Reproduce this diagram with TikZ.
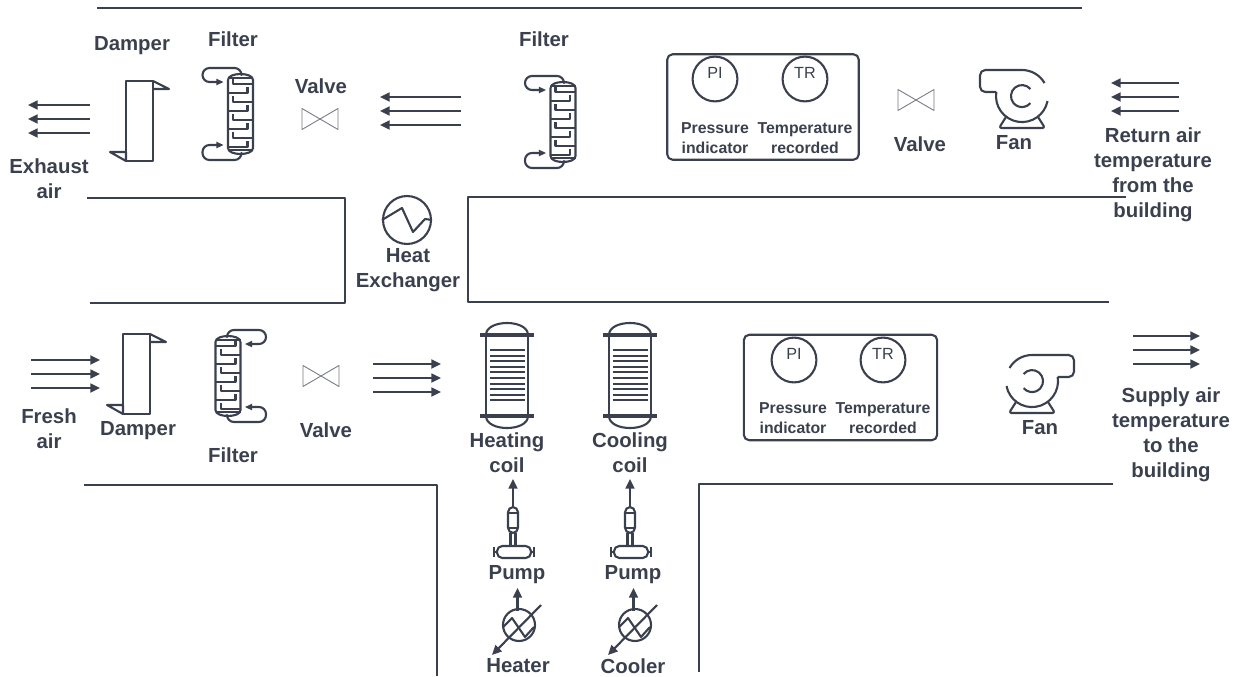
\documentclass[tikz,border=0pt]{standalone}
\usepackage{fontspec}
\setmainfont{Liberation Sans}
\usetikzlibrary{arrows.meta}
\definecolor{ink}{HTML}{3A404D}
\tikzset{
    every picture/.style={line join=round},
    tip/.style={-{Stealth[length=5.5pt, width=5pt, inset=0pt]}},
    smalltip/.style={-{Stealth[length=4pt, width=3.5pt, inset=0pt]}},
    duct/.style={draw=ink, line width=1.5pt},
    part/.style={draw=ink, line width=1.2pt},
    flow/.style={draw=ink, line width=1.3pt, tip},
    lbl/.style={font=\fontsize{11.6}{14.2}\selectfont\bfseries, text=ink, align=center, inner sep=0pt},
    small/.style={font=\fontsize{9}{11.4}\selectfont\bfseries, text=ink, align=center, inner sep=0pt},
    gauge/.style={circle, draw=ink, line width=1.2pt, minimum size=25.5pt, inner sep=0pt},
    gaugetext/.style={font=\fontsize{9.2}{12}\selectfont, text=ink, inner sep=0pt},
    % air arrows, drawn to the right
    pics/airflow/.style={code={
        \foreach \yy in {-14,0,14} \draw[flow] (-#1,\yy) -- (#1,\yy);
    }},
    pics/damper/.style={code={
        \draw[part] (-14,-40) rectangle (13,40);
        \draw[part] (13,-40) -- (29,-32) -- (13,-32);
        \draw[part] (-14,40) -- (-14,31) -- (-30,31) -- cycle;
    }},
    pics/filter/.style={code={
        \draw[part] (-12.5,-34) -- (-12.5,34) .. controls (-12.5,42) and (12.5,42) .. (12.5,34) -- (12.5,-34) .. controls (12.5,-42) and (-12.5,-42) .. (-12.5,-34);
        \draw[part] (-12.5,-36) -- (12.5,-36) (-12.5,36) -- (12.5,36);
        % trays with risers
        \foreach \yy in {-30,-12,6,24} \draw[part] (12.5,\yy) -- (-7.5,\yy) -- (-7.5,\yy-6);
        \foreach \yy in {-21,-3,15,33} \draw[part] (-12.5,\yy) -- (7,\yy) -- (7,\yy-6);
        \draw[part, smalltip, rounded corners=4pt] (1,-39) -- (1,-46) -- (-38,-46) -- (-38,-32) -- (-17,-32);
        \draw[part, smalltip, rounded corners=4pt] (1,39) -- (1,46) -- (-38,46) -- (-38,31) -- (-17,31);
    }},
    pics/valve/.style={code={
        \draw[draw=ink!70, line width=.5pt] (-18,-10.5) -- (18,10.5) -- (18,-10.5) -- (-18,10.5) -- cycle;
    }},
    pics/fan/.style={code={
        \draw[part] (22.5,-13) arc (-30:-90:26) -- (-35,-26) [rounded corners=3pt] -- (-42,-26) -- (-42,-4) -- (-25.7,-4);
        \draw[part] (-25.7,-4) arc (189:11:26);
        \draw[part] (8.4,-7) arc (-40:-320:11);
        \draw[part, rounded corners=1.5pt] (-16,21) -- (-23,32) -- (23,32) -- (16,21);
    }},
    pics/coil/.style={code={
        \draw[part] (-21,-40) .. controls (-21,-56) and (21,-56) .. (21,-40);
        \draw[part] (-21,41) .. controls (-21,57) and (21,57) .. (21,41);
        \draw[part] (-21,-40) -- (-21,41) (21,-40) -- (21,41);
        \draw[ink, line width=2pt] (-27,-40) -- (27,-40);
        \draw[ink, line width=2.6pt] (-27,41) -- (27,41);
        \foreach \yy in {0,...,9} \draw[ink, line width=1.2pt] (-17.5,-25+\yy*5.6) -- (17.5,-25+\yy*5.6);
    }},
    pics/pump/.style={code={
        \draw[part, tip] (0,-12) -- (0,-40);
        \draw[part, rounded corners=3pt] (-5,-12) rectangle (5,14);
        \draw[part] (-5,-6) -- (5,-6) (-5,9) -- (5,9);
        \draw[part] (-2.5,14) -- (-2.5,27) (2.5,14) -- (2.5,27);
        \draw[part, rounded corners=3pt] (-16,27) rectangle (18,39);
        \draw[part, line width=1.6pt] (-19,28) -- (-19,38) (21,28) -- (21,38);
        \draw[part] (-19,33) -- (-16,33) (18,33) -- (21,33);
    }},
    pics/exchanger/.style={code={
        \draw[part] (0,0) circle (16);
        \draw[part, tip] (-1.5,-14) -- (-1.5,-37);
        \draw[part, tip] (22,-20) -- (-27,30);
        \draw[part] (-16,2) -- (-7,-7) -- (6,12) -- (15,2);
    }}
}
\begin{document}
\begin{tikzpicture}[x=0.02cm, y=-0.02cm]
    \useasboundingbox (0,0) rectangle (1237,676);

    % Ducts
    \draw[duct] (97,8) -- (1082,8);
    \draw[duct] (87,198) -- (345,198) -- (345,303) -- (90,303);
    \draw[duct] (1126,197) -- (468,197) -- (468,302) -- (1109,302);
    \draw[duct] (84,485) -- (437,485) -- (437,676);
    \draw[duct] (1113,484) -- (699,484) -- (699,672);

    % Air arrows
    \pic[xscale=-1] at (59,119) {airflow=31};
    \pic[xscale=-1] at (420.5,111) {airflow=40.5};
    \pic[xscale=-1] at (1145,97) {airflow=34};
    \pic at (65.5,374) {airflow=34.5};
    \pic at (407,378) {airflow=34};
    \pic at (1166.5,350) {airflow=33.5};

    % Upper row
    \pic at (140,121) {damper};
    \pic at (240.5,114) {filter};
    \pic at (320,119) {valve};
    \pic at (563,122) {filter};
    \pic at (916,100) {valve};
    \pic at (1022,96) {fan};

    % Lower row
    \pic at (137,374) {damper};
    \pic[xscale=-1] at (228,376) {filter};
    \pic at (321,376) {valve};
    \pic[xscale=-1] at (1032,381) {fan};
    \pic at (507,375) {coil};
    \pic at (630,375) {coil};

    % Pumps and exchangers
    \pic at (513,519) {pump};
    \pic at (630,519) {pump};
    \pic at (519,625) {exchanger};
    \pic at (635,625) {exchanger};

    % Heat exchanger
    \node[circle, draw=ink, line width=1.2pt, minimum size=27.3pt, inner sep=0pt] (hx) at (407,220) {};
    \draw[part] (hx.west) -- (402,208) -- (413,232) -- (425,219) -- (hx.east);

    % Instrument boxes
    \node[draw=ink, line width=1.2pt, rounded corners=3pt, minimum width=109pt, minimum height=60pt, inner sep=0pt] (upbox) at (763,107) {};
    \node[gauge] (pi1) at (715,79) {};
    \node[gauge] (tr1) at (805,79) {};
    \node[gaugetext] at (715,73) {PI};
    \node[gaugetext] at (805,73) {TR};
    \node[small] at (715,138) {Pressure\\indicator};
    \node[small] at (805,138) {Temperature\\recorded};

    \node[draw=ink, line width=1.2pt, rounded corners=3pt, minimum width=110pt, minimum height=60pt, inner sep=0pt] (lowbox) at (840.5,387.5) {};
    \node[gauge] (pi2) at (794,360) {};
    \node[gauge] (tr2) at (883,360) {};
    \node[gaugetext] at (794,354) {PI};
    \node[gaugetext] at (883,354) {TR};
    \node[small] at (793,418) {Pressure\\indicator};
    \node[small] at (883,418) {Temperature\\recorded};

    % Labels
    \node[lbl] at (132,46) {Damper};
    \node[lbl] at (233,39) {Filter};
    \node[lbl] at (321,86) {Valve};
    \node[lbl] at (544,39) {Filter};
    \node[lbl] at (49,179) {Exhaust\\air};
    \node[lbl] at (920,144) {Valve};
    \node[lbl] at (1014,142.5) {Fan};
    \node[lbl] at (1153,174.5) {Return air\\temperature\\from the\\building};
    \node[lbl] at (408,270) {Heat\\Exchanger};
    \node[lbl] at (49,429) {Fresh\\air};
    \node[lbl] at (138,431) {Damper};
    \node[lbl] at (233,455) {Filter};
    \node[lbl] at (326,430) {Valve};
    \node[lbl] at (507,453) {Heating\\coil};
    \node[lbl] at (630,453) {Cooling\\coil};
    \node[lbl] at (517,574.5) {Pump};
    \node[lbl] at (633,574.5) {Pump};
    \node[lbl] at (518,666) {Heater};
    \node[lbl] at (633,666) {Cooler};
    \node[lbl] at (1040,427.5) {Fan};
    \node[lbl] at (1171,435) {Supply air\\temperature\\to the\\building};
\end{tikzpicture}
\end{document}
